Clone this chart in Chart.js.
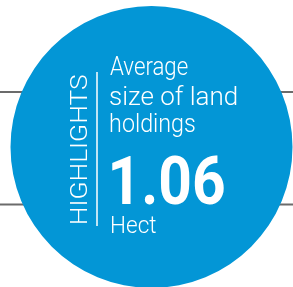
<!DOCTYPE html>
<html>
<head>
<meta charset="utf-8">
<script src="https://cdn.jsdelivr.net/npm/chart.js@4/dist/chart.umd.min.js"></script>
<style>
  html, body { margin: 0; padding: 0; background: #ffffff; overflow: hidden; }
  #wrap { position: absolute; left: 0; top: 0; width: 293px; height: 290px; }
</style>
</head>
<body>
<div id="wrap"><canvas id="c"></canvas></div>
<script>
// ---- data ----
const categories = ["Average size of land holdings"];
const values = [1.06];
const sideLabel = "HIGHLIGHTS";
const titleLines = ["Average", "size of land", "holdings"];
const valueLabel = "1.06";
const unitLabel = "Hect";

const BLUE = "rgb(3,150,214)";
const FONT = 'Roboto, "DejaVu Sans Condensed", sans-serif';

// draw text squeezed/stretched horizontally to a given width
function fitText(ctx, text, x, y, w) {
  const m = ctx.measureText(text);
  const left = m.actualBoundingBoxLeft || 0;
  const inkW = m.actualBoundingBoxRight + left;
  const s = w / inkW;
  ctx.save();
  ctx.translate(x, y);
  ctx.scale(s, 1);
  ctx.fillText(text, left, 0);
  ctx.restore();
}

const decor = {
  id: "decor",
  beforeDatasetsDraw(chart) {
    const ctx = chart.ctx;
    const arc = chart.getDatasetMeta(0).data[0];
    const cy = arc.y;
    ctx.save();
    ctx.strokeStyle = "#6b6b6b";
    ctx.lineWidth = 2;
    [cy - 55, cy + 57.5].forEach(y => {
      ctx.beginPath();
      ctx.moveTo(0, y);
      ctx.lineTo(chart.width, y);
      ctx.stroke();
    });
    ctx.restore();
  },
  afterDatasetsDraw(chart) {
    const ctx = chart.ctx;
    const arc = chart.getDatasetMeta(0).data[0];
    const cx = arc.x, cy = arc.y;
    ctx.save();
    ctx.fillStyle = "#ffffff";
    ctx.textBaseline = "alphabetic";
    ctx.textAlign = "left";

    // side label (rotated)
    ctx.save();
    ctx.translate(cx - 64.5, cy + 76);
    ctx.rotate(-Math.PI / 2);
    ctx.font = "300 24.5px " + FONT;
    fitText(ctx, sideLabel, 0, 0, 148);
    ctx.restore();

    // divider
    ctx.strokeStyle = "#ffffff";
    ctx.lineWidth = 1.5;
    ctx.beginPath();
    ctx.moveTo(cx - 54.5, cy - 75);
    ctx.lineTo(cx - 54.5, cy + 79);
    ctx.stroke();

    // title lines
    ctx.font = "300 25.5px " + FONT;
    const baselines = [-71.7, -42.5, -15];
    const widths = [78, 127, 85];
    titleLines.forEach((t, i) => fitText(ctx, t, cx - 41.5, cy + baselines[i], widths[i]));

    // value
    ctx.font = "bold 66px " + FONT;
    fitText(ctx, valueLabel, cx - 39.5, cy + 57.3, 112);

    // unit
    ctx.font = "300 23.5px " + FONT;
    fitText(ctx, unitLabel, cx - 39.5, cy + 86.3, 44);
    ctx.restore();
  }
};

new Chart(document.getElementById("c"), {
  type: "pie",
  data: {
    labels: categories,
    datasets: [{
      data: values,
      backgroundColor: [BLUE],
      borderWidth: 0,
      hoverOffset: 0
    }]
  },
  options: {
    responsive: true,
    maintainAspectRatio: false,
    animation: false,
    layout: { padding: { left: 10, right: 0, top: 6, bottom: 2 } },
    plugins: {
      legend: { display: false },
      tooltip: { enabled: false }
    }
  },
  plugins: [decor]
});
</script>
</body>
</html>
